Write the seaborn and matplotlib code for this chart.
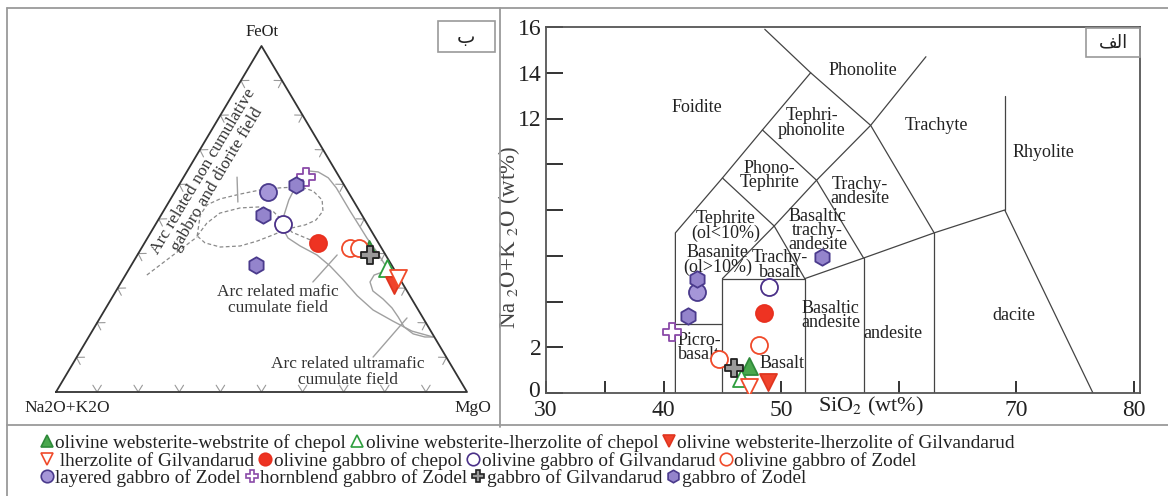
import numpy as np
import pandas as pd
import matplotlib
matplotlib.use("Agg")
import matplotlib.pyplot as plt
import seaborn as sns
from matplotlib.lines import Line2D
from matplotlib.patches import Rectangle
from matplotlib.transforms import ScaledTranslation

sns.set_style("white")
plt.rcParams["font.family"] = ["Liberation Serif", "DejaVu Sans"]
plt.rcParams["mathtext.fontset"] = "stix"

# ---------------- data ----------------
series_labels = [
    "olivine websterite-webstrite of chepol",
    "olivine websterite-lherzolite of chepol",
    "olivine websterite-lherzolite of Gilvandarud",
    " lherzolite of Gilvandarud",
    "olivine gabbro of chepol",
    "olivine gabbro of Gilvandarud",
    "olivine gabbro of Zodel",
    "layered gabbro of Zodel",
    "hornblend gabbro of Zodel",
    "gabbro of Gilvandarud",
    "gabbro of Zodel",
]
# TAS diagram values
tas_sio2 = [[47.3], [46.6], [48.9], [47.3], [48.5], [49.0], [48.1, 44.7],
            [42.8], [40.7], [46.0], [53.5, 42.8, 42.1]]
tas_alk = [[1.18], [0.66], [0.48], [0.26], [3.49], [4.63], [2.10, 1.48],
           [4.41], [2.66], [1.09], [5.94, 4.98, 3.36]]
# AFM-type ternary values (FeOt, MgO, Na2O+K2O)
tern_feot = [[41.3], [35.8], [30.9], [33.0], [43.1], [48.6], [41.6, 41.6],
             [57.8], [62.1], [39.6], [59.8, 51.2, 36.7]]
tern_mgo = [[55.5], [62.6], [66.8], [66.7], [42.2], [31.0], [50.7, 52.9],
            [22.7], [29.8], [56.6], [28.5, 24.8, 30.3]]
tern_alk = [[3.2], [1.6], [2.3], [0.3], [14.7], [20.4], [7.7, 5.5],
            [19.5], [8.1], [3.8], [11.7, 24.0, 33.0]]

# ternary field outlines (FeOt %, MgO %)
noncum_outer_feot = [45.1, 51.2, 54.1, 55.8, 57.2, 58.4, 59.0, 59.3, 58.1, 55.5, 52.3,
                     49.7, 48.3, 47.1, 45.4, 43.6, 42.2, 41.9, 43.1, 45.1]
noncum_outer_mgo = [11.8, 9.5, 9.7, 12.0, 16.2, 20.5, 25.0, 29.8, 33.5, 37.0, 38.8,
                    38.4, 36.5, 32.7, 30.1, 27.1, 23.7, 19.0, 14.7, 11.8]
noncum_inner_feot = [45.1, 48.8, 51.7, 53.2, 53.5, 52.3, 49.4, 46.2, 43.4]
noncum_inner_mgo = [11.8, 12.3, 14.0, 18.2, 22.9, 26.6, 30.5, 34.3, 41.3]
noncum_tail_feot = [33.8, 44.8]
noncum_tail_mgo = [5.2, 11.9]
mafic_feot = [15.9, 17.6, 20.5, 23.7, 27.8, 32.4, 36.4, 39.6, 42.2, 44.5, 47.1, 51.2,
              55.5, 59.5, 63.0, 63.9, 63.6, 61.9, 59.0, 55.8, 52.3, 48.6, 44.5, 40.8,
              37.6, 35.0]
mafic_mgo = [83.8, 77.8, 71.7, 65.3, 59.4, 53.7, 48.5, 43.7, 38.3, 34.2, 31.7, 29.9,
             28.9, 28.6, 28.4, 29.4, 32.0, 35.3, 38.7, 41.9, 45.4, 49.2, 53.4, 57.5,
             60.8, 63.5]
ultra_feot = [34.7, 33.8, 31.8, 29.2, 26.9, 24.3, 21.7, 18.8, 16.8, 15.9, 15.9]
ultra_mgo = [62.2, 60.5, 60.5, 62.5, 66.1, 69.6, 72.4, 75.3, 78.5, 81.8, 83.8]
leader_noncum_feot, leader_noncum_mgo = [62.1, 54.9], [13.0, 16.8]
leader_mafic_feot, leader_mafic_mgo = [39.6, 31.8], [48.6, 46.6]
leader_ultra_feot, leader_ultra_mgo = [21.4, 10.1], [74.7, 72.1]

# TAS field boundaries (SiO2, Na2O+K2O)
tas_boundaries = [
    [(41, 0), (41, 7), (45, 9.4), (48.4, 11.5), (52.5, 14), (48.6, 15.9)],
    [(41, 3), (45, 3)],
    [(45, 0), (45, 5), (52, 5), (52, 0)],
    [(45, 5), (49.4, 7.3), (52, 5)],
    [(52, 5), (57, 5.9), (63, 7), (69, 8), (76.5, 0)],
    [(57, 0), (57, 5.9)],
    [(63, 0), (63, 7)],
    [(45, 9.4), (49.4, 7.3), (53, 9.3), (57.6, 11.7), (62.3, 14.7)],
    [(48.4, 11.5), (53, 9.3), (57, 5.9)],
    [(52.5, 14), (57.6, 11.7), (63, 7)],
    [(69, 8), (69, 13)],
]
tas_field_names = ["Foidite", "Phonolite", "Tephri-\nphonolite", "Trachyte", "Rhyolite",
                   "Phono-\nTephrite", "Trachy-\nandesite", "Tephrite\n(ol<10%)",
                   "Basaltic\ntrachy-\nandesite", "Basanite\n(ol>10%)", "Trachy-\nbasalt",
                   "Basaltic\nandesite", "andesite", "dacite", "Picro-\nbasalt", "Basalt"]
tas_field_x = [42.8, 56.9, 52.6, 63.2, 72.3, 49.0, 56.7, 45.3, 53.1, 44.6, 49.9,
               54.2, 59.5, 69.8, 43.0, 50.1]
tas_field_y = [12.5, 14.1, 11.8, 11.7, 10.5, 9.5, 8.8, 7.3, 7.1, 5.8, 5.6,
               3.4, 2.6, 3.4, 2.0, 1.3]
y_ticks = [0, 2, 4, 6, 8, 10, 12, 14, 16]
y_ticklabels = ["0", "2", "", "", "", "", "12", "14", "16"]
x_ticks = [30, 40, 50, 60, 70, 80]
x_ticklabels = ["30", "40", "50", "", "70", "80"]

# ---------------- styles ----------------
styles = [
    dict(marker="^", face="#4aa84e", edge="#2f8a3a", s=150),
    dict(marker="^", face="white", edge="#2e9e3e", s=150),
    dict(marker="v", face="#f0432c", edge="#e0351f", s=150),
    dict(marker="v", face="white", edge="#f04a2a", s=150),
    dict(marker="o", face="#ee3322", edge="#e8301f", s=150),
    dict(marker="o", face="white", edge="#4a3088", s=150),
    dict(marker="o", face="white", edge="#f04a2a", s=150),
    dict(marker="o", face="#a596d8", edge="#4a3a8c", s=150),
    dict(marker="P", face="white", edge="#8a4aa8", s=170),
    dict(marker="P", face="#9a9a9a", edge="#222222", s=170),
    dict(marker="h", face="#9484cc", edge="#4a3a8c", s=140),
]

rows = []
for i, lab in enumerate(series_labels):
    for sx, sy, f, m, a in zip(tas_sio2[i], tas_alk[i], tern_feot[i], tern_mgo[i], tern_alk[i]):
        rows.append(dict(series=lab, idx=i, sio2=sx, alk_tas=sy, feot=f, mgo=m, alk=a))
df = pd.DataFrame(rows)


def tern_xy(feot, mgo, alk=None):
    feot = np.asarray(feot, float)
    mgo = np.asarray(mgo, float)
    alk = 100 - feot - mgo if alk is None else np.asarray(alk, float)
    tot = feot + mgo + alk
    f = feot / tot
    m = mgo / tot
    return m + f / 2, f


df["tx"], df["ty"] = tern_xy(df["feot"], df["mgo"], df["alk"])

W, H = 1168, 496
fig = plt.figure(figsize=(W / 100, H / 100), dpi=100)

# ---------------- ternary panel ----------------
axt = fig.add_axes([7 / W, 71 / H, 493 / W, 417 / H])
axt.set_xlim(-0.11922, 1.08029)
axt.set_ylim(-0.09538, 1.10983)
axt.axis("off")
sxp = 493 / (1.08029 + 0.11922)   # px per unit x
syp = 417 / (1.10983 + 0.09538)   # px per unit y

axt.plot([0, 1, 0.5, 0], [0, 0, 1, 0], color="#333333", lw=1.3, zorder=3)


def chevrons(points, normal_px):
    nx, ny = normal_px
    for (x, y) in points:
        for ang in (np.deg2rad(32), -np.deg2rad(32)):
            dx = nx * np.cos(ang) - ny * np.sin(ang)
            dy = nx * np.sin(ang) + ny * np.cos(ang)
            axt.plot([x, x + 8 * dx / sxp], [y, y + 8 * dy / syp], color="#999999", lw=0.8, zorder=2)


fr = np.arange(1, 10) / 10
chevrons([(v, 0) for v in fr], (0, 1))
el = np.hypot(0.5 * sxp, syp)
chevrons([(v / 2, v) for v in fr], (syp / el, -0.5 * sxp / el))
chevrons([(1 - v / 2, v) for v in fr], (-syp / el, -0.5 * sxp / el))

dash = dict(color="#8a8a8a", lw=0.9, ls=(0, (3, 2)), zorder=2)
solid = dict(color="#a0a0a0", lw=1.0, zorder=2)
for fe, mg, st in [(noncum_outer_feot, noncum_outer_mgo, dash),
                   (noncum_inner_feot, noncum_inner_mgo, dash),
                   (noncum_tail_feot, noncum_tail_mgo, dash),
                   (mafic_feot, mafic_mgo, solid),
                   (ultra_feot, ultra_mgo, solid),
                   (leader_noncum_feot, leader_noncum_mgo, solid),
                   (leader_mafic_feot, leader_mafic_mgo, solid),
                   (leader_ultra_feot, leader_ultra_mgo, solid)]:
    x, y = tern_xy(fe, mg)
    axt.plot(x, y, **st)

axt.text(0.501, 1.040, "FeOt", ha="center", va="center", fontsize=12, color="#222")
axt.text(0.027, -0.046, "Na2O+K2O", ha="center", va="center", fontsize=12.5, color="#222")
axt.text(1.015, -0.046, "MgO", ha="center", va="center", fontsize=12.5, color="#222")
axt.text(0.3747, 0.627, "Arc related non cumulative\ngabbro and diorite field", rotation=59.2,
         ha="center", va="center", multialignment="center", fontsize=12.5, color="#333",
         linespacing=1.0, rotation_mode="anchor")
axt.text(0.540, 0.266, "Arc related mafic\ncumulate field", ha="center", va="center",
         fontsize=12.5, color="#333", linespacing=1.05)
axt.text(0.7105, 0.058, "Arc related ultramafic\ncumulate field", ha="center", va="center",
         fontsize=12.5, color="#333", linespacing=1.05)

# ---------------- TAS panel ----------------
ax = fig.add_axes([546 / W, 103 / H, 594 / W, 366 / H])
ax.set_xlim(30, 80.5)
ax.set_ylim(0, 16)
for sp in ax.spines.values():
    sp.set_color("#555555")
    sp.set_linewidth(1.3)
for seg in tas_boundaries:
    xs, ys = zip(*seg)
    ax.plot(xs, ys, color="#444444", lw=0.9, zorder=2)
for name, x, y in zip(tas_field_names, tas_field_x, tas_field_y):
    ax.text(x, y, name, ha="center", va="center", fontsize=13, color="#222",
            linespacing=0.8, zorder=3)

ax.set_yticks(y_ticks)
ax.set_yticklabels(y_ticklabels)
ax.set_xticks(x_ticks)
ax.set_xticklabels(x_ticklabels)
ax.set_xticks([35], minor=True)
ax.tick_params(axis="y", direction="in", length=12, width=1.4, color="#333", labelsize=17,
               labelcolor="#222", pad=3, left=True)
ax.tick_params(axis="x", which="both", direction="in", length=9, width=1.4, color="#333",
               labelsize=17, labelcolor="#222", pad=5, bottom=True)
ax.text(57.6, -0.038, r"SiO$_{2}$ (wt%)", transform=ax.get_xaxis_transform(),
        ha="center", va="center", fontsize=16, color="#222")
ax.grid(False)

# ---------------- markers ----------------
for i, lab in enumerate(series_labels):
    st = styles[i]
    sub = df[df["idx"] == i]
    common = dict(marker=st["marker"], s=st["s"], color=st["face"], edgecolor=st["edge"],
                  linewidth=1.3, legend=False, zorder=5)
    sns.scatterplot(data=sub, x="sio2", y="alk_tas", ax=ax, **common)
    sns.scatterplot(data=sub, x="tx", y="ty", ax=axt, **common)
ax.set_xlabel("")
ax.set_ylabel(r"Na $_{2}$O+K $_{2}$O (wt%)", fontsize=16.5, color="#444")
ax.yaxis.set_label_coords(-0.040, 0.426)
axt.set_xlabel("")
axt.set_ylabel("")

# lift the "0" label a little so it does not collide with "30"
ylab0 = ax.get_yticklabels()[0]
ylab0.set_transform(ylab0.get_transform() + ScaledTranslation(-2 / 100, 4 / 100, fig.dpi_scale_trans))

# ---------------- legend rows ----------------
row_groups = [[0, 1, 2], [3, 4, 5, 6], [7, 8, 9, 10]]
row_y = [1 - 443 / H, 1 - 461 / H, 1 - 478 / H]
for grp, yy in zip(row_groups, row_y):
    hs = [Line2D([], [], marker=styles[i]["marker"], ls="none", markersize=9,
                 markerfacecolor=styles[i]["face"], markeredgecolor=styles[i]["edge"],
                 markeredgewidth=1.2) for i in grp]
    fig.legend(hs, [series_labels[i] for i in grp], loc="center left",
               bbox_to_anchor=(40 / W, yy), ncol=len(grp), frameon=False,
               handlelength=0.7, handletextpad=0.1, columnspacing=0.2,
               borderpad=0, borderaxespad=0, fontsize=13.9, labelcolor="#222")

# ---------------- panel frames and labels ----------------
lc = "#9a9a9a"
fig.add_artist(Line2D([7 / W, 1], [1 - 8 / H, 1 - 8 / H], transform=fig.transFigure, color=lc, lw=1.3))
fig.add_artist(Line2D([7 / W, 7 / W], [0, 1 - 8 / H], transform=fig.transFigure, color=lc, lw=1.3))
fig.add_artist(Line2D([500 / W, 500 / W], [1 - 427 / H, 1 - 8 / H], transform=fig.transFigure, color=lc, lw=1.3))
fig.add_artist(Line2D([7 / W, 1], [1 - 425 / H, 1 - 425 / H], transform=fig.transFigure, color=lc, lw=1.3))

fig.add_artist(Rectangle((438 / W, 1 - 52 / H), 57 / W, 31 / H, transform=fig.transFigure,
                         fill=False, ec=lc, lw=1.2))
fig.text(466 / W, 1 - 37 / H, "\u0628", ha="center", va="center", fontsize=14,
         family=["DejaVu Sans"], color="#222")
fig.add_artist(Rectangle((1086 / W, 1 - 57 / H), 54 / W, 29 / H, transform=fig.transFigure,
                         fill=False, ec=lc, lw=1.2))
fig.text(1113 / W, 1 - 42 / H, "\uFED2\uFEDF\uFE8D", ha="center", va="center", fontsize=13,
         family=["DejaVu Sans"], color="#222")

fig.savefig("out.png", dpi=100)
